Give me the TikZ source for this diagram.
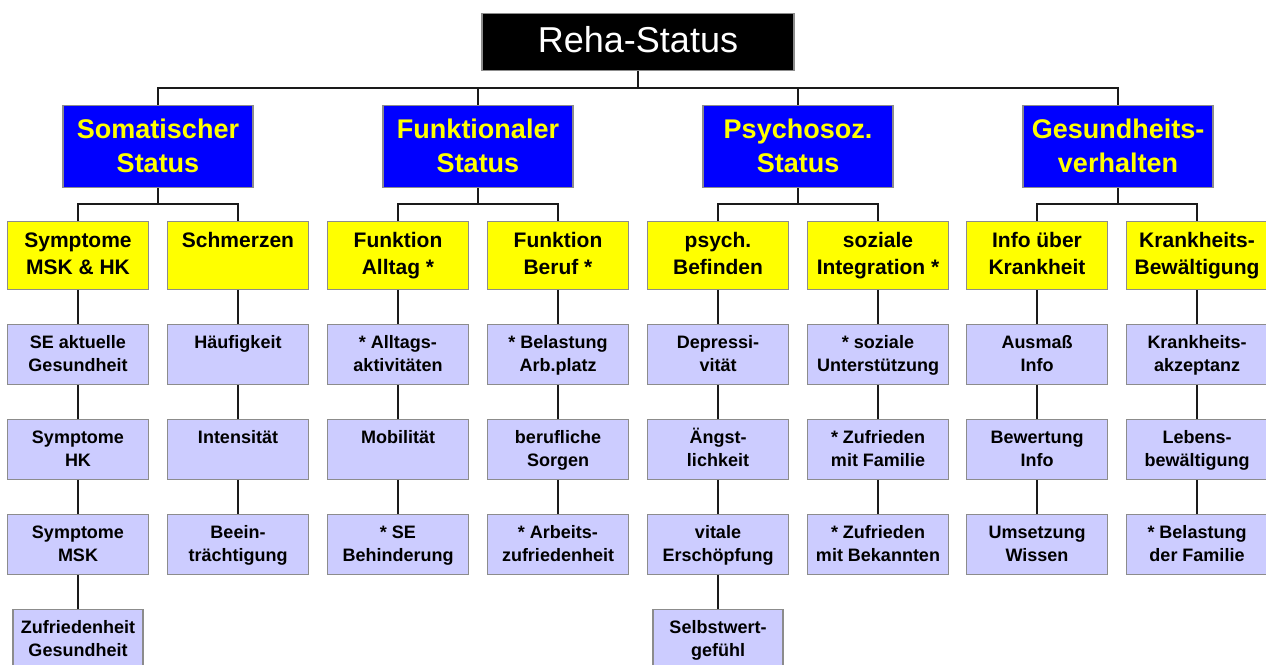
\documentclass[tikz,border=0pt]{standalone}
\usepackage{fontspec}
\setmainfont{Liberation Sans}
\definecolor{bblue}{HTML}{0000FF}
\definecolor{byellow}{HTML}{FFFF00}
\definecolor{blav}{HTML}{CCCCFF}
\definecolor{bborder}{HTML}{8C8C8C}
\definecolor{lnk}{HTML}{1A1A1A}
\tikzset{
  boxbase/.style={draw=bborder, line width=1.3pt, rectangle, inner sep=0pt, anchor=north},
  rootbox/.style={boxbase, fill=black, minimum width=312pt, minimum height=57pt},
  bluebox/.style={boxbase, fill=bblue, minimum width=190pt, minimum height=82pt},
  yelbox/.style={boxbase, fill=byellow, minimum width=141pt, minimum height=68pt},
  lavbox/.style={boxbase, fill=blav, minimum width=141pt, minimum height=60pt},
  lavsmall/.style={boxbase, fill=blav, minimum width=130pt, minimum height=60pt},
  txt/.style={inner sep=0pt, anchor=base},
  link/.style={draw=lnk, line width=1.2pt},
}
% name, cx, top, boxstyle, text width, baseline offset, font setup, text
\newcommand\mkbox[8]{%
  \node[#4] (#1) at (#2,#3) {};
  \node[txt] (#1t) at ([yshift=-#6]#1.north)
    {\parbox[t]{#5}{\centering\hyphenpenalty=10000\leavevmode #7#8}};
}
\newcommand\fblue{\fontsize{27}{34}\selectfont\bfseries\color{byellow}}
\newcommand\fyel{\fontsize{21}{27}\selectfont\bfseries}
\newcommand\flav{\fontsize{18}{23}\selectfont\bfseries}
\newcommand\yb[4]{\mkbox{#1}{#2}{221}{yelbox}{141pt}{26pt}{\fyel}{#4}}
\newcommand\lb[4]{\mkbox{#1}{#2}{#3}{lavbox}{141pt}{24pt}{\flav}{#4}}
\newcommand\lbs[4]{\mkbox{#1}{#2}{#3}{lavsmall}{130pt}{24pt}{\flav}{#4}}
\begin{document}
\begin{tikzpicture}[x=1pt,y=-1pt]
\useasboundingbox (0,0) rectangle (1266,664);
\clip (0,0) rectangle (1266,664);
% root
\node[rootbox] (reha) at (638,13) {};
\node[txt, text=white] (rehat) at ([yshift=-39pt]reha.north) {\fontsize{36}{40}\selectfont Reha-Status};
% level 2
\mkbox{som}{158}{105}{bluebox}{190pt}{33pt}{\fblue}{Somatischer\\Status}
\mkbox{fun}{478}{105}{bluebox}{190pt}{33pt}{\fblue}{Funktionaler\\Status}
\mkbox{psy}{798}{105}{bluebox}{190pt}{33pt}{\fblue}{Psychosoz.\\Status}
\mkbox{ges}{1118}{105}{bluebox}{190pt}{33pt}{\fblue}{Gesundheits-\\verhalten}
% level 3
\yb{y1}{78}{}{Symptome\\MSK \& HK}
\yb{y2}{238}{}{Schmerzen}
\yb{y3}{398}{}{Funktion\\Alltag *}
\yb{y4}{558}{}{Funktion\\Beruf *}
\yb{y5}{718}{}{psych.\\Befinden}
\yb{y6}{878}{}{soziale\\Integration *}
\yb{y7}{1037}{}{Info über\\Krankheit}
\yb{y8}{1197}{}{Krankheits-\\Bewältigung}
% level 4, column 1
\lb{a1}{78}{324}{SE aktuelle\\Gesundheit}
\lb{a2}{78}{419}{Symptome\\HK}
\lb{a3}{78}{514}{Symptome\\MSK}
\lbs{a4}{78}{609}{Zufriedenheit\\Gesundheit}
% column 2
\lb{b1}{238}{324}{Häufigkeit}
\lb{b2}{238}{419}{Intensität}
\lb{b3}{238}{514}{Beein-\\trächtigung}
% column 3
\lb{c1}{398}{324}{* Alltags-\\aktivitäten}
\lb{c2}{398}{419}{Mobilität}
\lb{c3}{398}{514}{* SE\\Behinderung}
% column 4
\lb{d1}{558}{324}{* Belastung\\Arb.platz}
\lb{d2}{558}{419}{berufliche\\Sorgen}
\lb{d3}{558}{514}{* Arbeits-\\zufriedenheit}
% column 5
\lb{e1}{718}{324}{Depressi-\\vität}
\lb{e2}{718}{419}{Ängst-\\lichkeit}
\lb{e3}{718}{514}{vitale\\Erschöpfung}
\lbs{e4}{718}{609}{Selbstwert-\\gefühl}
% column 6
\lb{f1}{878}{324}{* soziale\\Unterstützung}
\lb{f2}{878}{419}{* Zufrieden\\mit Familie}
\lb{f3}{878}{514}{* Zufrieden\\mit Bekannten}
% column 7
\lb{g1}{1037}{324}{Ausmaß\\Info}
\lb{g2}{1037}{419}{Bewertung\\Info}
\lb{g3}{1037}{514}{Umsetzung\\Wissen}
% column 8
\lb{h1}{1197}{324}{Krankheits-\\akzeptanz}
\lb{h2}{1197}{419}{Lebens-\\bewältigung}
\lb{h3}{1197}{514}{* Belastung\\der Familie}
% connectors
\coordinate (j0) at (638,88);
\draw[link] (reha.south) -- (j0);
\draw[link] (som.north) |- (j0) -| (ges.north);
\draw[link] (fun.north) -- (fun.north |- j0);
\draw[link] (psy.north) -- (psy.north |- j0);
\coordinate (k1) at (158,204);
\coordinate (k2) at (478,204);
\coordinate (k3) at (798,204);
\coordinate (k4) at (1118,204);
\draw[link] (som.south) -- (k1);
\draw[link] (y1.north) |- (k1) -| (y2.north);
\draw[link] (fun.south) -- (k2);
\draw[link] (y3.north) |- (k2) -| (y4.north);
\draw[link] (psy.south) -- (k3);
\draw[link] (y5.north) |- (k3) -| (y6.north);
\draw[link] (ges.south) -- (k4);
\draw[link] (y7.north) |- (k4) -| (y8.north);
\draw[link] (y1.south) -- (a1.north);
\draw[link] (a1.south) -- (a2.north);
\draw[link] (a2.south) -- (a3.north);
\draw[link] (a3.south) -- (a4.north);
\draw[link] (y2.south) -- (b1.north);
\draw[link] (b1.south) -- (b2.north);
\draw[link] (b2.south) -- (b3.north);
\draw[link] (y3.south) -- (c1.north);
\draw[link] (c1.south) -- (c2.north);
\draw[link] (c2.south) -- (c3.north);
\draw[link] (y4.south) -- (d1.north);
\draw[link] (d1.south) -- (d2.north);
\draw[link] (d2.south) -- (d3.north);
\draw[link] (y5.south) -- (e1.north);
\draw[link] (e1.south) -- (e2.north);
\draw[link] (e2.south) -- (e3.north);
\draw[link] (e3.south) -- (e4.north);
\draw[link] (y6.south) -- (f1.north);
\draw[link] (f1.south) -- (f2.north);
\draw[link] (f2.south) -- (f3.north);
\draw[link] (y7.south) -- (g1.north);
\draw[link] (g1.south) -- (g2.north);
\draw[link] (g2.south) -- (g3.north);
\draw[link] (y8.south) -- (h1.north);
\draw[link] (h1.south) -- (h2.north);
\draw[link] (h2.south) -- (h3.north);
\end{tikzpicture}
\end{document}
